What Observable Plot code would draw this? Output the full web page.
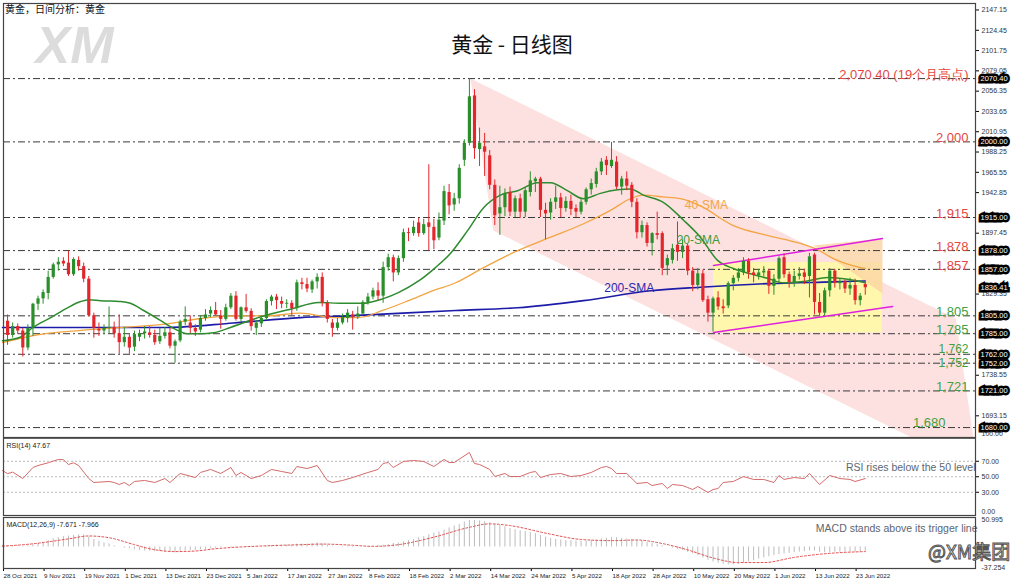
<!DOCTYPE html>
<html><head><meta charset="utf-8">
<script src="https://cdn.jsdelivr.net/npm/d3@7"></script>
<script src="https://cdn.jsdelivr.net/npm/@observablehq/plot@0.6"></script>
<style>
body{margin:0;background:#fff;}
#wrap{position:relative;width:1024px;height:584px;overflow:hidden;background:#fff;font-family:"Liberation Sans",Arial,sans-serif;}
#wrap svg{position:absolute;left:0;overflow:visible;}
.t{position:absolute;white-space:nowrap;}
</style></head><body><div id="wrap"></div>
<script>
// ---------- DATA ----------
const opens=[1797,1799,1783,1793,1788,1769,1791,1818,1824,1830,1848,1862,1866,1864,1851,1867,1860,1846,1805,1790,1788,1791,1792,1785,1775,1781,1770,1781,1785,1786,1783,1776,1782,1786,1771,1777,1798,1797,1791,1789,1802,1807,1811,1805,1801,1814,1827,1801,1814,1810,1791,1796,1802,1821,1826,1821,1818,1819,1813,1842,1840,1834,1843,1848,1819,1797,1791,1797,1802,1806,1804,1807,1820,1826,1833,1827,1859,1870,1853,1869,1898,1897,1909,1897,1909,1904,1892,1911,1943,1929,1936,1979,1998,2051,1991,1994,1984,1951,1919,1926,1943,1921,1936,1921,1943,1955,1958,1923,1920,1932,1937,1925,1933,1925,1921,1932,1946,1952,1966,1979,1972,1977,1949,1958,1951,1932,1898,1906,1886,1897,1897,1861,1867,1884,1876,1883,1855,1839,1852,1823,1808,1825,1815,1816,1841,1847,1853,1866,1853,1850,1853,1855,1838,1846,1870,1851,1842,1849,1853,1849,1873,1820,1808,1833,1855,1841,1843,1835,1839,1822,1840];
const highs=[1801,1806,1797,1796,1791,1795,1819,1827,1834,1855,1864,1870,1870,1877,1870,1871,1864,1849,1808,1797,1795,1815,1798,1806,1792,1784,1788,1789,1793,1793,1789,1791,1792,1791,1778,1800,1815,1805,1795,1805,1812,1815,1820,1811,1818,1830,1832,1815,1829,1813,1800,1805,1823,1828,1829,1826,1823,1822,1845,1847,1847,1845,1852,1853,1822,1801,1802,1807,1812,1810,1815,1822,1830,1836,1842,1865,1874,1873,1872,1902,1903,1911,1914,1913,1974,1913,1920,1950,1952,1942,1974,2002,2070,2058,2015,2009,1990,1957,1950,1947,1949,1939,1941,1948,1966,1960,1960,1931,1936,1950,1942,1938,1940,1929,1935,1948,1958,1970,1981,1983,1999,1983,1961,1966,1954,1936,1911,1909,1898,1921,1899,1873,1885,1910,1890,1885,1859,1858,1856,1827,1826,1832,1823,1843,1850,1858,1870,1869,1858,1857,1860,1857,1851,1871,1874,1854,1855,1859,1857,1875,1875,1830,1836,1858,1857,1846,1845,1847,1846,1830,1842];
const lows=[1782,1772,1780,1784,1759,1766,1782,1811,1818,1823,1846,1855,1860,1849,1849,1855,1842,1804,1780,1782,1784,1785,1780,1762,1770,1762,1765,1776,1779,1780,1772,1773,1779,1768,1752,1775,1794,1785,1782,1786,1799,1803,1805,1790,1799,1812,1799,1798,1808,1788,1783,1792,1800,1816,1812,1813,1813,1805,1810,1834,1831,1830,1835,1815,1797,1781,1788,1795,1797,1789,1801,1806,1817,1823,1822,1819,1855,1843,1850,1865,1888,1894,1893,1895,1878,1879,1889,1906,1918,1922,1930,1972,1995,1980,1972,1961,1946,1906,1895,1916,1916,1915,1914,1915,1938,1943,1915,1890,1912,1924,1915,1921,1917,1915,1918,1929,1940,1948,1962,1962,1970,1946,1940,1945,1926,1891,1892,1882,1872,1890,1850,1850,1863,1866,1869,1850,1832,1834,1820,1798,1787,1811,1807,1813,1833,1843,1850,1846,1842,1845,1849,1829,1828,1841,1847,1836,1837,1845,1840,1825,1806,1805,1805,1826,1836,1834,1830,1828,1817,1816,1828];
const closes=[1799,1783,1793,1788,1769,1791,1818,1824,1831,1848,1862,1865,1863,1851,1868,1860,1846,1805,1791,1788,1791,1792,1785,1775,1781,1769,1784,1785,1787,1783,1775,1782,1786,1771,1776,1798,1801,1791,1787,1802,1806,1811,1806,1801,1814,1827,1801,1814,1810,1793,1797,1802,1821,1826,1822,1818,1819,1813,1842,1840,1835,1843,1848,1819,1801,1791,1797,1803,1808,1803,1807,1820,1826,1833,1827,1859,1870,1853,1869,1898,1897,1904,1897,1907,1904,1889,1912,1944,1928,1936,1970,1998,2050,1992,1998,1988,1951,1917,1926,1942,1921,1936,1921,1945,1956,1958,1923,1919,1932,1937,1925,1933,1924,1921,1932,1946,1953,1966,1977,1973,1979,1949,1958,1950,1932,1898,1906,1886,1897,1895,1858,1869,1880,1876,1883,1855,1839,1852,1822,1808,1824,1815,1813,1841,1847,1853,1866,1853,1850,1853,1855,1838,1846,1869,1851,1842,1849,1852,1848,1871,1820,1808,1833,1855,1841,1843,1835,1839,1822,1827,1836.4];

// moving averages: [bar, price]
const sma20=[[0,1777],[3.5,1781],[6,1792],[9.5,1803],[12.8,1814],[15.4,1821],[17,1823],[19.3,1822],[23.3,1821],[25.2,1819],[27.8,1811],[31.1,1800],[33.7,1791],[36.5,1785],[39,1785],[41.6,1786],[44.9,1792],[50.4,1803],[57.1,1813],[62.3,1820],[67,1819],[70.9,1819],[74.9,1824],[78,1831],[82,1844],[85.3,1859],[88.3,1875],[91.6,1900],[94.8,1926],[98.1,1940],[101.5,1945],[105.4,1954],[108,1954],[111.3,1945],[114.5,1936],[117.8,1942],[121.2,1946],[123.7,1947],[126.3,1940],[130.2,1932],[134.2,1912],[137.5,1893],[140.9,1867],[144,1858],[147.4,1852],[150.7,1847],[153.9,1842],[158.6,1844],[162.6,1848],[166.5,1846],[170,1842]];
const sma50=[[0,1775],[6.1,1783],[16,1789],[25.8,1793],[32.5,1796],[39,1802],[45.5,1805],[52.2,1805],[58.7,1808],[65.2,1803],[70.1,1803],[74.9,1811],[80,1822],[84.7,1833],[89.3,1842],[94.8,1859],[101.5,1878],[108,1893],[114.5,1908],[119.8,1923],[123.7,1936],[126.3,1940],[130.2,1938],[133.6,1936],[137.5,1928],[144,1906],[150.7,1895],[157.2,1886],[160.6,1879],[163.7,1869],[167.7,1861],[170,1858]];
const sma200=[[0,1792],[19.3,1792],[32.5,1792],[45.5,1797],[58.7,1803],[68,1805],[89.3,1811],[101.5,1814],[114.5,1822],[127.7,1833],[137.5,1837],[150.7,1841],[163.7,1843],[170,1844]];

const levels=[2070.4,1999.6,1915,1878,1857,1805,1785,1762,1752,1721,1680];
const resistLabels=[[2070.4,"2,070.40 (19个月高点)"],[1999.6,"2,000"],[1915,"1,915"],[1878,"1,878"],[1857,"1,857"]];
const supportLabels=[[1805,"1,805"],[1785,"1,785"],[1721,"1,721"]];
const closePairUpper=[[1762,"1,762"]];
const closePairLower=[[1752,"1,752"]];
const lowLabel=[[1680,"1,680"]];
const axisBoxes=[2070.4,2000,1915,1878,1857,1836.41,1805,1785,1762,1752,1721,1680];
const priceTicks=[2147.15,2124.45,2101.75,2079.05,2056.35,2033.65,2010.95,1988.25,1965.55,1942.85,1897.45,1829.35,1738.55,1693.15];

// drawn objects: [bar, price]
const pinkChannel=[[92.2,2070.5],[187.8,1802],[192.3,1632],[96.7,1900.4]];
const upperLine=[[140.1,1861.3],[173.4,1891.5]];
const lowerLine=[[140.1,1786.3],[175.4,1815.4]];
const yellowBox={x1:140.1,x2:173.4,y1:1786,y2:1864.6};
const peachWedge=[[159.8,1883.7],[173.4,1891.5],[173.4,1830]];

const rsiIdx=[0,1,2,4,6,7,9,11,12,13,14,15,17,18,21,22,23,24,25,26,28,30,32,33,35,38,39,41,43,45,46,47,49,51,53,55,57,58,60,62,64,65,67,69,72,74,75,76,77,79,81,83,85,87,88,89,92,93,94,96,97,99,100,102,104,105,106,108,110,112,114,116,118,119,120,121,123,125,127,128,130,131,132,134,135,136,137,139,140,141,142,144,146,148,150,152,153,154,156,158,159,161,163,165,167,168,170];
const rsiVal=[58,54,56,47.7,61.9,64.5,68,72.3,72,65.8,68,64.5,47.7,42.6,43.9,42.6,40,42.6,38.7,43.9,45.2,42.6,47.7,42.6,54.2,49,55.5,59.4,54.2,61.9,51.6,55.5,47.7,51.6,59.4,56.8,54.2,63.2,60.6,64.5,45.2,42.6,45.2,49,55.5,59.4,67.1,68.4,61.9,69.7,71,69.7,63.2,72.3,68.4,68.4,81.3,67.1,65.8,59.4,50.3,54.2,50.3,50.3,55.5,56.8,49,52.9,54.2,50.3,51.6,55.5,61.9,63.2,60.6,54.2,54.2,41.3,42.6,38.7,41.3,34.8,40,38.7,36.1,33.5,37.4,29.7,33.5,34.8,42.6,43.9,50.3,46.5,46.5,42.6,51.6,46.5,49,47.7,54.2,40,51.6,47.7,46.5,43.9,47.67];

const macdHist=[3,2,2,2,1,2,4,6,8,11,14,16,18,19,20,21,21,17,13,10,7,5,2,0,-2,-3,-5,-6,-7,-7,-8,-8,-9,-9,-10,-8,-7,-6,-6,-5,-4,-3,-2,-1,0,1,1,1,1,0,-1,0,1,2,3,3,3,3,5,5,5,6,7,5,3,1,0,-1,-1,-1,0,0,1,2,3,3,4,6,7,9,11,13,16,18,21,24,26,29,33,36,39,43,46,46,45,44,42,39,37,35,32,30,28,27,25,23,20,17,15,13,12,11,11,10,10,10,11,12,14,15,16,16,15,14,13,12,10,8,6,4,2,0,-2,-4,-6,-9,-12,-15,-19,-23,-26,-28,-30,-31,-31,-30,-28,-26,-24,-21,-19,-17,-15,-13,-12,-11,-10,-9,-8,-7,-7,-9,-10,-10,-9,-9,-9,-9,-9,-9,-7.671];
const signalIdx=[0,6,13,17,21,26,29,34,38,42,47,52,59,63,69,73,78,85,92,96,100,107,114,120,125,130,135,140,145,150,156,163,170];
const signalVal=[1.4,5.5,14,19,16,4,-3,-8,-7,-3,0,2,4,5,3,1,4,17,34,40,37,24,13,11,12,6,-5,-19,-27,-27,-18,-11,-7.966];

const dateLabels=["28 Oct 2021","9 Nov 2021","19 Nov 2021","1 Dec 2021","13 Dec 2021","23 Dec 2021","5 Jan 2022","17 Jan 2022","27 Jan 2022","8 Feb 2022","18 Feb 2022","2 Mar 2022","14 Mar 2022","24 Mar 2022","5 Apr 2022","18 Apr 2022","28 Apr 2022","10 May 2022","20 May 2022","1 Jun 2022","13 Jun 2022","23 Jun 2022"];
const rsiTicks=[30,50,70];
const rsiEnds=[0,100];
const macdTop=[50.995], macdBottom=[-37.254];

// ---------- BUILD ----------
const bars=opens.map((o,i)=>({i,o,h:highs[i],l:lows[i],c:closes[i]}));
const up=bars.filter(d=>d.c>=d.o), down=bars.filter(d=>d.c<d.o);
const pt=a=>a.map(([i,p])=>({i,p}));
const xDom=[0.197,191.72];
const GREEN="#2a8f2a", RED="#e3262b", RES="#e4473f", SUP="#3fa03f";
const wrap=document.getElementById("wrap");
const baseStyle={fontFamily:"Liberation Sans, Arial, sans-serif",fontSize:"7px",background:"transparent",overflow:"visible"};
const axOpts={anchor:"right",label:null,tickSize:3,tickPadding:3,fontSize:7,fill:"#333"};
const lvlOpts={frameAnchor:"right",y:d=>d[0],text:d=>d[1],dx:-7,textAnchor:"end",fontSize:13};

const main=Plot.plot({
  width:1024,height:437,marginLeft:3,marginRight:49,marginTop:3,marginBottom:0,
  style:baseStyle,
  x:{type:"linear",domain:xDom,axis:null},
  y:{domain:[1668.9,2154.4],axis:null},
  marks:[
    Plot.text(["XM"],{frameAnchor:"top-left",dx:32,dy:23,text:d=>d,fontSize:52,fontWeight:"900",fontStyle:"italic",fill:"#dcdcdc",textAnchor:"start",lineAnchor:"top",fontFamily:"Liberation Sans"}),
    Plot.line(pt(pinkChannel),{x:"i",y:"p",fill:"#fde0e0",stroke:"none",clip:true}),
    Plot.rect([yellowBox],{x1:"x1",x2:"x2",y1:"y1",y2:"y2",fill:"#ffff9a",fillOpacity:0.75}),
    Plot.line(pt(peachWedge),{x:"i",y:"p",fill:"#fbd3a4",fillOpacity:0.8,stroke:"none"}),
    Plot.ruleY(levels,{stroke:"#3a3a3a",strokeWidth:1,strokeDasharray:"7,3,2,3"}),
    Plot.line(pt(sma200),{x:"i",y:"p",stroke:"#1c1ca8",strokeWidth:1.6,curve:"monotone-x"}),
    Plot.line(pt(sma50),{x:"i",y:"p",stroke:"#f2a541",strokeWidth:1.3,curve:"monotone-x"}),
    Plot.line(pt(sma20),{x:"i",y:"p",stroke:"#2e8b2e",strokeWidth:1.5,curve:"monotone-x"}),
    Plot.line(pt(upperLine),{x:"i",y:"p",stroke:"#e020e0",strokeWidth:1.5}),
    Plot.line(pt(lowerLine),{x:"i",y:"p",stroke:"#e020e0",strokeWidth:1.5}),
    Plot.ruleX(up,{x:"i",y1:"l",y2:"h",stroke:GREEN,strokeWidth:1,clip:true}),
    Plot.ruleX(down,{x:"i",y1:"l",y2:"h",stroke:RED,strokeWidth:1,clip:true}),
    Plot.ruleX(up,{x:"i",y1:"o",y2:d=>Math.max(d.c,d.o+1),stroke:GREEN,strokeWidth:3.2,clip:true}),
    Plot.ruleX(down,{x:"i",y1:"o",y2:d=>Math.min(d.c,d.o-1),stroke:RED,strokeWidth:3.2,clip:true}),
    Plot.text(resistLabels,{...lvlOpts,dy:-4,fill:RES}),
    Plot.text(supportLabels,{...lvlOpts,dy:-4,fill:SUP}),
    Plot.text(closePairUpper,{...lvlOpts,dy:-5,fill:SUP,fontSize:12}),
    Plot.text(closePairLower,{...lvlOpts,dy:-0.5,fill:SUP,fontSize:12}),
    Plot.text(lowLabel,{...lvlOpts,dx:-30,dy:-5,fill:SUP}),
    Plot.text([{i:137.1,p:1889.3,t:"20-SMA"}],{x:"i",y:"p",text:"t",fill:"#3b9a3b",fontSize:12}),
    Plot.text([{i:138.7,p:1928.4,t:"40-SMA"}],{x:"i",y:"p",text:"t",fill:"#f0a548",fontSize:12}),
    Plot.text([{i:123.5,p:1835.6,t:"200-SMA"}],{x:"i",y:"p",text:"t",fill:"#2a2ab0",fontSize:12}),
    Plot.axisY(priceTicks,{...axOpts,tickFormat:d=>d.toFixed(2)}),
    Plot.text(axisBoxes,{frameAnchor:"right",y:d=>d,text:d=>d.toFixed(2),dx:5,textAnchor:"start",fill:"white",stroke:"black",strokeWidth:5,strokeLinejoin:"miter",paintOrder:"stroke",fontSize:7.5}),
    Plot.frame({stroke:"#444",strokeWidth:1.2})
  ]
});
main.style.top="0px";
wrap.appendChild(main);

const rsi=Plot.plot({
  width:1024,height:78,marginLeft:3,marginRight:49,marginTop:0.5,marginBottom:0,
  style:baseStyle,
  x:{type:"linear",domain:xDom,axis:null},
  y:{domain:[0,100],axis:null},
  marks:[
    Plot.ruleY(rsiTicks,{stroke:"#bbb",strokeDasharray:"2,2"}),
    Plot.line(rsiIdx.map((i,k)=>({i,v:rsiVal[k]})),{x:"i",y:"v",stroke:"#d46a6a",strokeWidth:1}),
    Plot.text(["RSI(14) 47.67"],{frameAnchor:"top-left",dx:3,dy:5,text:d=>d,fontSize:7,fill:"#222",textAnchor:"start"}),
    Plot.text(["RSI rises below the 50 level"],{frameAnchor:"right",y:()=>62,dx:0,text:d=>d,fontSize:10.5,fill:"#5b6671",textAnchor:"end"}),
    Plot.axisY(rsiTicks,{...axOpts,tickFormat:d=>d.toFixed(2)}),
    Plot.tickY(rsiEnds,{stroke:"#444"}),
    Plot.text(rsiEnds,{frameAnchor:"right",y:d=>d,text:d=>d.toFixed(2),dx:6,dy:-4,textAnchor:"start",fontSize:7,fill:"#333"}),
    Plot.frame({stroke:"#444",strokeWidth:1.2})
  ]
});
rsi.style.top="437px";
wrap.appendChild(rsi);

const macd=Plot.plot({
  width:1024,height:69,marginLeft:3,marginRight:49,marginTop:2,marginBottom:16,
  style:baseStyle,
  x:{type:"linear",domain:xDom,axis:null},
  y:{domain:[-37.254,50.995],axis:null},
  marks:[
    Plot.ruleX(macdHist.map((v,i)=>({i,v})),{x:"i",y1:0,y2:"v",stroke:"#bdbdbd",strokeWidth:1}),
    Plot.line(signalIdx.map((i,k)=>({i,v:signalVal[k]})),{x:"i",y:"v",stroke:"#e05050",strokeWidth:1,strokeDasharray:"2,2",curve:"monotone-x"}),
    Plot.text(["MACD(12,26,9) -7.671 -7.966"],{frameAnchor:"top-left",dx:3,dy:5,text:d=>d,fontSize:7,fill:"#222",textAnchor:"start"}),
    Plot.text(["MACD stands above its trigger line"],{frameAnchor:"right",y:()=>31,dx:2,text:d=>d,fontSize:10.5,fill:"#5b6671",textAnchor:"end"}),
    Plot.text(macdTop,{frameAnchor:"right",y:d=>d,text:d=>String(d),dx:6,dy:2,textAnchor:"start",fontSize:7,fill:"#333"}),
    Plot.text(macdBottom,{frameAnchor:"right",y:d=>d,text:d=>String(d),dx:6,dy:-1,textAnchor:"start",fontSize:7,fill:"#333"}),
    Plot.axisX(dateLabels.map((d,k)=>k*8),{anchor:"bottom",label:null,tickSize:3,tickPadding:2,tickFormat:d=>dateLabels[Math.round(d/8)],textAnchor:"start",dx:1,fontSize:6.2,fill:"#222"}),
    Plot.frame({stroke:"#444",strokeWidth:1.2})
  ]
});
macd.style.top="515px";
wrap.appendChild(macd);

function addText(txt,css){const d=document.createElement("div");d.className="t";d.textContent=txt;Object.assign(d.style,css);wrap.appendChild(d);}
addText("黄金，日间分析：黄金",{left:"5px",top:"3px",fontSize:"10px",lineHeight:"12px",fontFamily:"Noto Sans CJK SC",color:"#111"});
addText("黄金 - 日线图",{left:"0px",width:"1024px",textAlign:"center",top:"28px",fontSize:"21px",fontFamily:"Noto Sans CJK SC",color:"#111"});
addText("@XM集团",{left:"928px",top:"537px",fontSize:"19px",fontFamily:"Noto Sans CJK SC",color:"rgba(255,255,255,0.6)",webkitTextStroke:"1px #555"});
</script></body></html>
